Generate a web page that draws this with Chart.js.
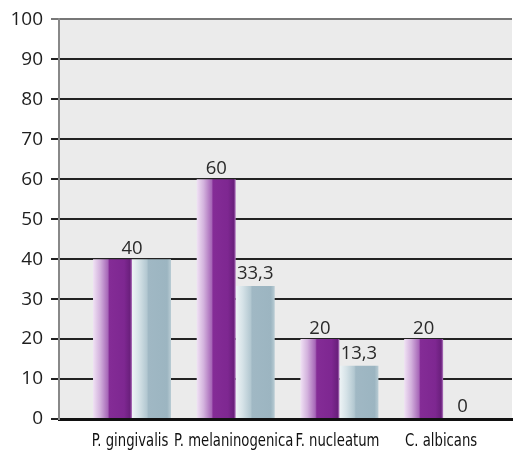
<!DOCTYPE html>
<html>
<head>
<meta charset="utf-8">
<script src="https://cdn.jsdelivr.net/npm/chart.js@4"></script>
<style>
  html, body { margin: 0; padding: 0; background: #fff; }
  #wrap { width: 513px; height: 452px; }
</style>
</head>
<body>
<div id="wrap"><canvas id="myChart"></canvas></div>
<script>
// ── Data ──────────────────────────────────────────────────────────────────────
const categories = ["P. gingivalis", "P. melaninogenica", "F. nucleatum", "C. albicans"];
const seriesA    = [40, 60, 20, 20];      // purple bars
const seriesB    = [40, 33.3, 13.3, 0];   // blue-grey bars
const yTicks     = [0, 10, 20, 30, 40, 50, 60, 70, 80, 90, 100];

const fmt = v => String(v).replace(".", ",");
const NARROW = "'Liberation Sans Narrow', 'DejaVu Sans Condensed', sans-serif";
const PLAIN  = "'Open Sans', 'Liberation Sans', sans-serif";

// ── Bar gradients (horizontal, per bar) ───────────────────────────────────────
const purpleStops = [[0, "#f0e2f4"], [0.18, "#d3b2dd"], [0.38, "#a767b8"], [0.42, "#842c96"], [0.8, "#7e2791"], [0.95, "#6a1f7c"], [1, "#b47cc2"]];
const blueStops   = [[0, "#eef4f6"], [0.18, "#d5e2e7"], [0.38, "#b3c8d1"], [0.42, "#a0b8c4"], [0.9, "#9cb5c1"], [1, "#b9ccd4"]];

function barFill(stops, side) {
  return ctx => {
    const chart = ctx.chart, x = chart.scales.x;
    if (!x || ctx.type !== "data") return stops[3][1];
    const unit = x.getPixelForValue(1) - x.getPixelForValue(0);
    const w = unit * 0.752 / 2;
    const c = x.getPixelForValue(ctx.dataIndex) + side * w / 2;
    if (!isFinite(c) || !isFinite(w) || w <= 0) return stops[3][1];
    const g = chart.ctx.createLinearGradient(c - w / 2, 0, c + w / 2, 0);
    stops.forEach(s => g.addColorStop(s[0], s[1]));
    return g;
  };
}

// ── Plot background, value labels, condensed category labels ─────────────────
const plotBg = {
  id: "plotBg",
  beforeDraw(chart) {
    const a = chart.chartArea, c = chart.ctx;
    c.save();
    c.fillStyle = "#ebebeb";
    c.fillRect(a.left, a.top, a.right - a.left, a.bottom - a.top);
    c.restore();
  },
};

const valueLabels = {
  id: "valueLabels",
  afterDatasetsDraw(chart) {
    const c = chart.ctx, x = chart.scales.x, y = chart.scales.y;
    const mA = chart.getDatasetMeta(0), mB = chart.getDatasetMeta(1);
    c.save();
    c.font = "18.5px " + PLAIN;
    c.fillStyle = "#2a2a2a";
    c.textAlign = "center";
    c.textBaseline = "bottom";
    categories.forEach((_, i) => {
      const a = seriesA[i], b = seriesB[i];
      if (a === b) {
        c.fillText(fmt(a), x.getPixelForValue(i), y.getPixelForValue(a) - 1);
      } else {
        c.fillText(fmt(a), mA.data[i].x, y.getPixelForValue(a) - 1);
        c.fillText(fmt(b), mB.data[i].x, y.getPixelForValue(b) - 3);
      }
    });
    c.restore();
  },
};

// category names squeezed horizontally, like the narrow face of the original
const catLabels = {
  id: "catLabels",
  afterDraw(chart) {
    const c = chart.ctx, x = chart.scales.x, sx = 0.816;
    c.save();
    c.font = "18px " + NARROW;
    c.fillStyle = "#111";
    c.textAlign = "center";
    c.textBaseline = "alphabetic";
    c.scale(sx, 1);
    categories.forEach((name, i) => {
      c.fillText(name, (x.getPixelForValue(i) - 2) / sx, 446);
    });
    c.restore();
  },
};

// ── Chart ─────────────────────────────────────────────────────────────────────
const chartInst = new Chart(document.getElementById("myChart").getContext("2d"), {
  type: "bar",
  data: {
    datasets: [
      { data: seriesA.map((v, i) => ({ x: i, y: v })), backgroundColor: barFill(purpleStops, -1), borderWidth: 0 },
      { data: seriesB.map((v, i) => ({ x: i, y: v })), backgroundColor: barFill(blueStops, 1),   borderWidth: 0 },
    ],
  },
  options: {
    animation: false,
    responsive: true,
    maintainAspectRatio: false,
    layout: { padding: { top: 17, right: 1, left: 0, bottom: 0 } },
    categoryPercentage: 0.752,
    barPercentage: 1,
    plugins: { legend: { display: false }, tooltip: { enabled: false } },
    scales: {
      x: {
        type: "linear",
        offset: false,
        min: -0.704, max: 3.664,
        afterBuildTicks: s => { s.ticks = categories.map((_, i) => ({ value: i })); },
        afterFit: s => { s.height = 33; },
        ticks: { display: false },
        grid: { display: false, drawTicks: false },
        border: { display: true, color: "#111", width: 3 },
      },
      y: {
        min: 0, max: 100,
        afterBuildTicks: s => { s.ticks = yTicks.map(v => ({ value: v })); },
        afterFit: s => { s.width = 59; },
        ticks: { padding: 8, color: "#1e1e1e", font: { family: PLAIN, size: 19 } },
        grid: {
          color: c => c.tick && c.tick.value === 100 ? "#777" : "#222",
          lineWidth: 2,
          tickLength: 8,
        },
        border: { display: true, color: "#888", width: 2 },
      },
    },
  },
  plugins: [plotBg, valueLabels, catLabels],
});
// gradients depend on laid-out scales; redraw once layout exists
chartInst.update();
</script>
</body>
</html>
